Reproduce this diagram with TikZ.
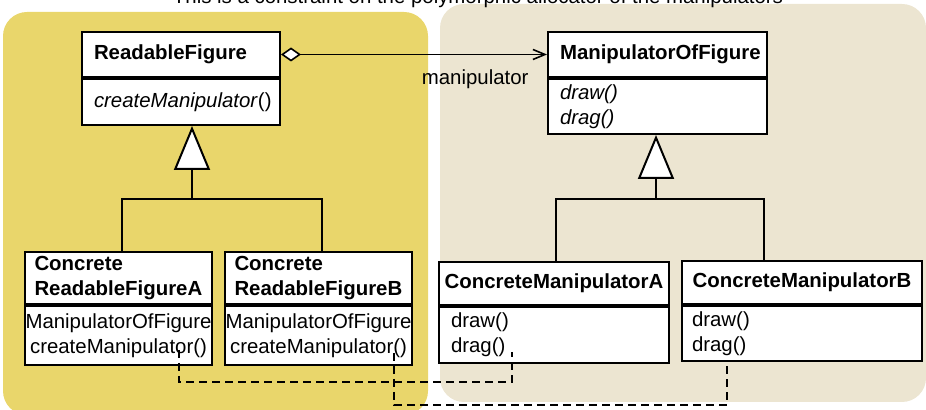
\documentclass[tikz,border=0pt]{standalone}
\usepackage{fontspec}
\setmainfont{Liberation Sans}
\usetikzlibrary{positioning, calc, arrows.meta}
\definecolor{panelYellow}{RGB}{233,214,107}
\definecolor{panelBeige}{RGB}{236,229,209}
\newcommand{\umlfont}{\fontsize{10.2}{12.3}\selectfont}
\tikzstyle{Dep} = [
%dashed dependency line:
line width=1pt,
dash pattern=on 4pt off 2.5pt
]

\begin{document}
\begin{tikzpicture}[x=0.5pt, y=-0.5pt,
			head/.style = {draw, line width=1pt, fill=white, font=\umlfont\bfseries, align=left, inner xsep=6pt, inner ysep=0pt, anchor=north west},
			body/.style = {draw, line width=1pt, fill=white, font=\umlfont, align=left, inner xsep=6pt, inner ysep=0pt},
			gen/.style = {line width=1pt, -{Triangle[open, fill=white, length=22pt, width=18pt]}},
			assoc/.style = {line width=0.8pt, {Diamond[open, fill=white, length=10pt, width=7pt]}-{Straight Barb[length=6pt, width=5pt]}},
		]
		\useasboundingbox (0,0) rectangle (926,410);
		\clip (0,0) rectangle (926,410);
		\fill[panelYellow, rounded corners=12pt] (3,12) rectangle (428,415);
		\fill[panelBeige, rounded corners=12pt] (440,4) rectangle (926,402);
		\node[anchor=base, font=\umlfont] (title) at (478,4) {This is a constraint on the polymorphic allocator of the manipulators};

		\node[head, text width=87pt, minimum height=22.5pt] (RF) at (81,31) {ReadableFigure};
		\node[body, text width=87pt, minimum height=23pt, below=0pt of RF] (RFb) {\textit{createManipulator}()};
		\node[head, text width=97.5pt, minimum height=22.5pt] (MF) at (547,31) {ManipulatorOfFigure};
		\node[body, text width=97.5pt, minimum height=27.5pt, below=0pt of MF] (MFb) {\textit{draw()}\\\textit{drag()}};

		\node[head, text width=84pt, inner xsep=4.75pt, minimum height=26pt] (CA) at (24,251) {Concrete\\ReadableFigureA};
		\node[body, text width=93.5pt, inner xsep=0pt, align=center, minimum height=29.5pt, below=0pt of CA] (CAb) {ManipulatorOfFigure\\createManipulator()};
		\node[head, text width=84pt, inner xsep=4.75pt, minimum height=26pt] (CB) at (224,251) {Concrete\\ReadableFigureB};
		\node[body, text width=93.5pt, inner xsep=0pt, align=center, minimum height=29.5pt, below=0pt of CB] (CBb) {ManipulatorOfFigure\\createManipulator()};

		\node[head, text width=111pt, inner xsep=2pt, align=center, minimum height=21.5pt] (MA) at (438,261) {ConcreteManipulatorA};
		\node[body, text width=103pt, minimum height=28pt, below=0pt of MA] (MAb) {draw()\\drag()};
		\node[head, text width=116pt, inner xsep=2pt, align=center, minimum height=21.5pt] (MB) at (681,260) {ConcreteManipulatorB};
		\node[body, text width=110pt, inner xsep=5pt, minimum height=27.5pt, below=0pt of MB] (MBb) {draw()\\drag()};

		\draw[assoc] (RF.east) -- node[pos=0.73, below=4pt, font=\umlfont] {manipulator} (MF.west);

		\coordinate (JL) at (192,199);
		\coordinate (BL) at (122,199);
		\coordinate (BR) at (322,199);
		\draw[gen] (JL) -- (JL |- RFb.south);
		\draw[line width=1pt] (BL |- CA.north) -- (BL) -- (BR) -- (BR |- CB.north);

		\coordinate (JR) at (656,199);
		\coordinate (CL) at (556,199);
		\coordinate (CR) at (764,199);
		\draw[gen] (JR) -- (JR |- MFb.south);
		\draw[line width=1pt] (CL |- MA.north) -- (CL) -- (CR) -- (CR |- MB.north);

		\coordinate (UA) at (179,350);
		\coordinate (VA) at (512,352);
		\coordinate (UB) at (394,353);
		\coordinate (VB) at (727,358);
		\draw[Dep] (UA) -- ++(0,32) -| (VA);
		\draw[Dep] (UB) -- ++(0,52) -| (VB |- MBb.south);

	\end{tikzpicture}
\end{document}
